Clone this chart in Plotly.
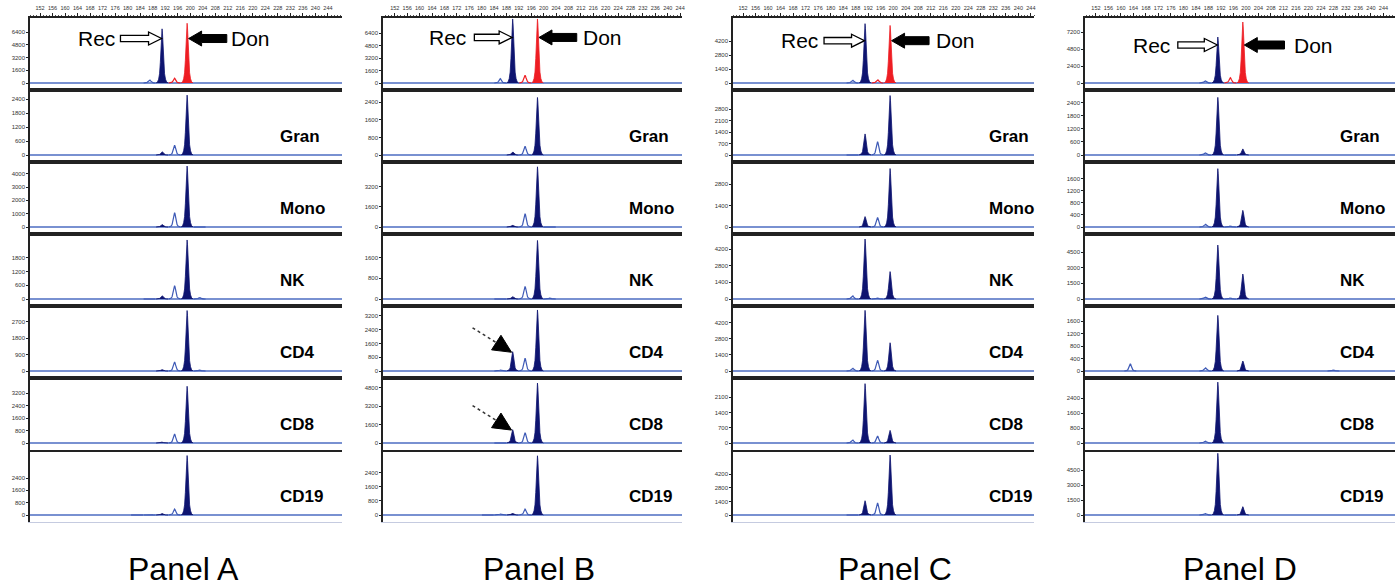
import plotly.graph_objects as go

# ---------------- data ----------------
PANEL_NAMES = ["Panel A", "Panel B", "Panel C", "Panel D"]
ROW_NAMES = ["", "Gran", "Mono", "NK", "CD4", "CD8", "CD19"]
SIZE_TICKS = [152, 156, 160, 164, 168, 172, 176, 180, 184, 188, 192, 196, 200,
              204, 208, 212, 216, 220, 224, 228, 232, 236, 240, 244]

REC_ALLELE = [191, 190, 191, 191]
DON_ALLELE = [199, 198, 199, 199]

# peaks per row: (size in bp, height in RFU, kind)
# kind: "B" called blue (filled), "b" blue stutter (outline),
#       "R" called red (filled),  "r" red stutter (outline)
PEAKS_A = [
    [(187, 400, "b"), (191, 6800, "B"), (195, 600, "r"), (199, 7500, "R")],
    [(191, 150, "B"), (195, 420, "b"), (199, 2580, "B")],
    [(191, 200, "B"), (195, 1080, "b"), (199, 4575, "B"), (203, 50, "b")],
    [(187, 30, "b"), (191, 150, "B"), (195, 580, "b"), (199, 2570, "B"), (203, 60, "b")],
    [(191, 80, "B"), (195, 500, "b"), (199, 3330, "B"), (203, 50, "b")],
    [(191, 60, "B"), (195, 580, "b"), (199, 3630, "B")],
    [(183, 30, "b"), (187, 50, "b"), (191, 100, "B"), (195, 390, "b"), (199, 3860, "B")],
]
PEAKS_B = [
    [(186, 560, "b"), (190, 8200, "B"), (194, 980, "r"), (198, 8200, "R")],
    [(190, 150, "B"), (194, 400, "b"), (198, 2620, "B")],
    [(190, 150, "B"), (194, 1050, "b"), (198, 4760, "B"), (202, 50, "b")],
    [(186, 20, "b"), (190, 100, "B"), (194, 490, "b"), (198, 2270, "B"), (202, 40, "b")],
    [(186, 50, "b"), (190, 1120, "B"), (194, 740, "b"), (198, 3540, "B")],
    [(186, 50, "b"), (190, 1160, "B"), (194, 900, "b"), (198, 5220, "B")],
    [(182, 30, "b"), (186, 50, "b"), (190, 100, "B"), (194, 340, "b"), (198, 3380, "B")],
]
PEAKS_C = [
    [(187, 300, "b"), (191, 5980, "B"), (195, 350, "r"), (199, 5800, "R")],
    [(187, 30, "b"), (191, 1290, "B"), (195, 820, "b"), (199, 3640, "B")],
    [(191, 680, "B"), (195, 620, "b"), (199, 3830, "B")],
    [(187, 280, "b"), (191, 5040, "B"), (195, 80, "b"), (199, 2300, "B")],
    [(187, 260, "b"), (191, 5280, "B"), (195, 930, "b"), (199, 2460, "B")],
    [(187, 150, "b"), (191, 2730, "B"), (195, 320, "b"), (199, 580, "B")],
    [(187, 30, "b"), (191, 1470, "B"), (195, 1240, "b"), (199, 6180, "B")],
]
PEAKS_D = [
    [(187, 300, "b"), (191, 6530, "B"), (195, 750, "r"), (199, 8660, "R")],
    [(187, 100, "b"), (191, 2650, "B"), (195, 30, "b"), (199, 280, "B")],
    [(187, 100, "b"), (191, 1930, "B"), (195, 30, "b"), (199, 550, "B")],
    [(187, 200, "b"), (191, 5180, "B"), (195, 100, "b"), (199, 2400, "B")],
    [(163, 230, "b"), (187, 110, "b"), (191, 1780, "B"), (199, 320, "B"), (228, 30, "b")],
    [(187, 100, "b"), (191, 3250, "B")],
    [(187, 150, "b"), (191, 6170, "B"), (195, 30, "b"), (199, 830, "B")],
]

YTICKS_A = [[0, 1600, 3200, 4800, 6400], [0, 600, 1200, 1800, 2400], [0, 1000, 2000, 3000, 4000],
            [0, 600, 1200, 1800], [0, 900, 1800, 2700], [0, 800, 1600, 2400, 3200], [0, 800, 1600, 2400]]
YTICKS_B = [[0, 1600, 3200, 4800, 6400], [0, 800, 1600, 2400], [0, 1600, 3200],
            [0, 800, 1600], [0, 800, 1600, 2400, 3200], [0, 1600, 3200, 4800], [0, 800, 1600, 2400]]
YTICKS_C = [[0, 1400, 2800, 4200], [0, 700, 1400, 2100, 2800], [0, 1400, 2800],
            [0, 1400, 2800, 4200], [0, 1400, 2800, 4200], [0, 700, 1400, 2100], [0, 1400, 2800, 4200]]
YTICKS_D = [[0, 2400, 4800, 7200], [0, 600, 1200, 1800, 2400], [0, 400, 800, 1200, 1600],
            [0, 1500, 3000, 4500], [0, 400, 800, 1200, 1600], [0, 800, 1600, 2400], [0, 1500, 3000, 4500]]

# rows in panel B that carry the dotted arrow (recipient signal)
ARROW_ROWS_B = [4, 5]

PEAKS = [PEAKS_A, PEAKS_B, PEAKS_C, PEAKS_D]
YTICKS = [YTICKS_A, YTICKS_B, YTICKS_C, YTICKS_D]

# ---------------- layout / style ----------------
W, H = 1399, 588
PANEL_PX = [(30, 342), (383, 682), (733, 1034), (1085, 1395)]
XRANGE = [(148.8, 248.5), (148.2, 244.6), (148.8, 245.0), (148.5, 247.7)]
YTOP = [
    [8160, 2800, 4880, 2830, 3580, 4160, 4220],
    [8320, 2960, 5140, 2520, 3770, 5660, 3710],
    [6550, 3980, 4260, 5460, 5660, 2990, 6700],
    [9230, 2990, 2150, 6240, 2080, 3470, 6500],
]
ROW_TOP = 18
ROW_H = 72
BASE_FRAC = 7 / 72.0
LABEL_X = [0.795, 0.815, 0.843, 0.815]
ARROW_Y = [0.715, 0.73, 0.685, 0.625]
REC_TAIL = [-41.6, -38.3, -41.0, -40.0]
DON_TAIL = [39.7, 39.3, 39.0, 41.7]
REC_TEXT = [-45, -45, -45, -46]
DON_TEXT = [42, 44, 44, 49]
PANEL_LABEL_X = [183, 539, 895, 1240]

NAVY = "#0e1470"
BASE_BLUE = "#4c6cc2"
OUT_BLUE = "#3e5ab6"
RED = "#ee1d23"
AXIS = "#222222"
FONT = "Liberation Sans, Arial, sans-serif"

# peak glyph (style): offsets in bp and relative height
PROFILE_DX = [-1.9, -1.45, -1.1, -0.8, -0.55, -0.33, -0.13, 0, 0.13, 0.33, 0.55, 0.8, 1.1, 1.45, 1.9]
PROFILE_REL = [0, 0.02, 0.07, 0.17, 0.38, 0.65, 0.92, 1, 0.92, 0.65, 0.38, 0.17, 0.07, 0.02, 0]

fig = go.Figure()
layout = {}
shapes = []
annotations = []

for p in range(4):
    left, right = PANEL_PX[p]
    xmin, xmax = XRANGE[p]
    for r in range(7):
        k = p * 7 + r + 1
        xs = "x" if k == 1 else f"x{k}"
        ys = "y" if k == 1 else f"y{k}"
        top_px = ROW_TOP + r * ROW_H
        bot_px = top_px + ROW_H
        ytop = YTOP[p][r]
        ybot = -ytop * BASE_FRAC / (1 - BASE_FRAC)

        xa = dict(domain=[left / W, right / W], range=[xmin, xmax], anchor=ys,
                  automargin=False,
                  showgrid=False, zeroline=False, showline=True, linecolor=AXIS,
                  linewidth=2.4, mirror=True, ticks="", showticklabels=False, fixedrange=True)
        if r == 0:
            xa.update(side="top", tickmode="array", tickvals=SIZE_TICKS,
                      ticktext=[str(t) for t in SIZE_TICKS], showticklabels=True,
                      tickangle=0, ticklabelstandoff=1,
                      ticks="outside", ticklen=3, tickcolor=AXIS, tickwidth=1,
                      tickfont=dict(size=5.5, color="#333", family=FONT),
                      minor=dict(dtick=1, tick0=152, ticks="outside", ticklen=1.5,
                                 tickcolor="#555", tickwidth=0.7),
                      linewidth=1.6)
        if r == 6:
            xa.update(mirror=False, linecolor="#c5cbe0", linewidth=1)
        ya = dict(domain=[1 - bot_px / H, 1 - top_px / H], range=[ybot, ytop], anchor=xs,
                  automargin=False,
                  showgrid=False, zeroline=False, showline=True, linecolor=AXIS, linewidth=1.5,
                  tickmode="array", tickvals=YTICKS[p][r],
                  ticktext=[str(t) for t in YTICKS[p][r]],
                  ticks="outside", ticklen=2, tickcolor=AXIS, tickwidth=1,
                  tickfont=dict(size=6, color="#333", family=FONT), fixedrange=True)
        layout["xaxis" if k == 1 else f"xaxis{k}"] = xa
        layout["yaxis" if k == 1 else f"yaxis{k}"] = ya

        # baseline
        fig.add_trace(go.Scatter(x=[xmin, xmax], y=[0, 0], mode="lines",
                                 line=dict(color=BASE_BLUE, width=1.4),
                                 xaxis=xs, yaxis=ys, hoverinfo="skip"))
        # peaks
        for pos, h, kind in PEAKS[p][r]:
            px_ = [pos + d for d in PROFILE_DX]
            py_ = [h * v for v in PROFILE_REL]
            if kind in ("B", "R"):
                col = NAVY if kind == "B" else RED
                fig.add_trace(go.Scatter(x=px_, y=py_, mode="lines", fill="toself",
                                         fillcolor=col, line=dict(color=col, width=0.8),
                                         xaxis=xs, yaxis=ys, hoverinfo="skip"))
            else:
                col = OUT_BLUE if kind == "b" else RED
                fig.add_trace(go.Scatter(x=px_, y=py_, mode="lines",
                                         line=dict(color=col, width=1.2),
                                         xaxis=xs, yaxis=ys, hoverinfo="skip"))

        if r > 0:
            annotations.append(dict(text=f"<b>{ROW_NAMES[r]}</b>", xref=f"{xs} domain",
                                    yref=f"{ys} domain", x=LABEL_X[p], y=0.36,
                                    xanchor="left", yanchor="middle", showarrow=False,
                                    font=dict(size=17, color="black", family=FONT)))
        else:
            rec = REC_ALLELE[p]
            don = DON_ALLELE[p]
            tail = REC_TAIL[p]
            tip = -0.5
            hl, hh, sh = 13, 6.5, 3.2
            rec_path = (f"M{tail},{sh} L{tip - hl},{sh} L{tip - hl},{hh} L{tip},0 "
                        f"L{tip - hl},{-hh} L{tip - hl},{-sh} L{tail},{-sh} Z")
            shapes.append(dict(type="path", xref=xs, yref=f"{ys} domain",
                               xsizemode="pixel", ysizemode="pixel",
                               xanchor=rec, yanchor=ARROW_Y[p], path=rec_path,
                               fillcolor="white", line=dict(color="black", width=1.3)))
            dtail = DON_TAIL[p]
            dtip = 1.5
            hl, hh, sh = 13, 7.5, 4
            don_path = (f"M{dtail},{sh} L{dtip + hl},{sh} L{dtip + hl},{hh} L{dtip},0 "
                        f"L{dtip + hl},{-hh} L{dtip + hl},{-sh} L{dtail},{-sh} Z")
            shapes.append(dict(type="path", xref=xs, yref=f"{ys} domain",
                               xsizemode="pixel", ysizemode="pixel",
                               xanchor=don, yanchor=ARROW_Y[p], path=don_path,
                               fillcolor="black", line=dict(color="black", width=1)))
            annotations.append(dict(text="Rec", xref=xs, yref=f"{ys} domain", x=rec,
                                    y=ARROW_Y[p], xshift=REC_TEXT[p], xanchor="right",
                                    yanchor="middle", showarrow=False,
                                    font=dict(size=21, color="black", family=FONT)))
            annotations.append(dict(text="Don", xref=xs, yref=f"{ys} domain", x=don,
                                    y=ARROW_Y[p], xshift=DON_TEXT[p], xanchor="left",
                                    yanchor="middle", showarrow=False,
                                    font=dict(size=21, color="black", family=FONT)))

        # dotted arrows in panel B
        if p == 1 and r in ARROW_ROWS_B:
            rec = REC_ALLELE[p]
            hrec = [h for pos, h, kind in PEAKS[p][r] if pos == rec][0]
            ax0, ay0 = rec - 0.35, hrec * 0.97
            shapes.append(dict(type="line", xref=xs, yref=ys, xsizemode="pixel",
                               ysizemode="pixel", xanchor=ax0, yanchor=ay0,
                               x0=-39, y0=24.5, x1=-15, y1=9.5,
                               line=dict(color="#333", width=1.5, dash="dot")))
            shapes.append(dict(type="path", xref=xs, yref=ys, xsizemode="pixel",
                               ysizemode="pixel", xanchor=ax0, yanchor=ay0,
                               path="M0,0 L-10.6,17.0 L-20.0,2.4 Z",
                               fillcolor="black", line=dict(color="black", width=1)))

for p in range(4):
    annotations.append(dict(text=PANEL_NAMES[p], xref="paper", yref="paper",
                            x=PANEL_LABEL_X[p] / W, y=1 - 569 / H, xanchor="center",
                            yanchor="middle", showarrow=False,
                            font=dict(size=32, color="black", family=FONT)))

fig.update_layout(**layout)
fig.update_layout(width=W, height=H, margin=dict(l=0, r=0, t=0, b=0, autoexpand=False),
                  paper_bgcolor="white", plot_bgcolor="white", showlegend=False,
                  shapes=shapes, annotations=annotations)
fig.write_html("out.html", config={"displayModeBar": False},
               post_script="document.body.style.margin='0px';"
                           "document.body.style.padding='0px';"
                           "document.body.style.overflow='hidden';")
